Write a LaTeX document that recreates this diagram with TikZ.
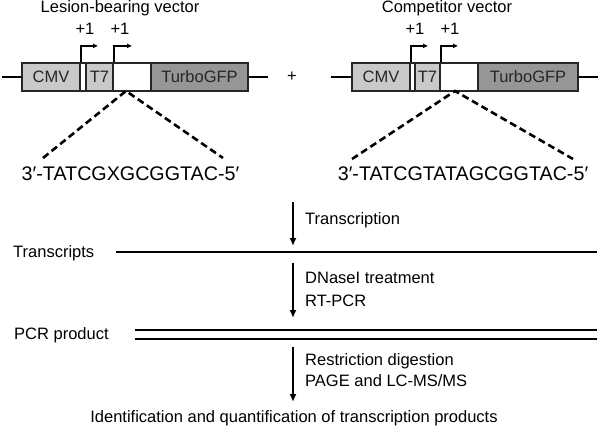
\documentclass[tikz,border=0pt]{standalone}
\usepackage{fontspec}
\setmainfont{Liberation Sans}
\usetikzlibrary{arrows.meta}
\tikzset{
  lbl/.style={font=\fontsize{16.5}{18}\selectfont, inner sep=0pt},
  seq/.style={font=\fontsize{19.7}{21}\selectfont, inner sep=0pt},
  segbox/.style={draw=black!85, line width=2.2pt, minimum height=28pt, inner sep=0pt,
    font=\fontsize{16.5}{18}\selectfont, text height=11.8pt, text depth=0pt, text=black!85},
  lightbox/.style={segbox, fill=black!21},
  darkbox/.style={segbox, fill=black!41},
  whitebox/.style={segbox, fill=white},
  backbone/.style={line width=2.6pt},
  promoter/.style={line width=1.5pt, -{Latex[length=5pt,width=5pt]}},
  stage/.style={line width=2.2pt, -{Latex[length=8pt,width=7pt]}},
  dashline/.style={line width=2.6pt, dash pattern=on 7pt off 4pt},
}
\begin{document}
\begin{tikzpicture}[x=1pt, y=-1pt]
			%%%%% START %%%%%
			\useasboundingbox (0,0) rectangle (600,426);
			
			%%%%% lesion-bearing vector
			\node[lbl, anchor=base] (titleL) at (120,12.5) {Lesion-bearing vector};
			\node[lightbox, minimum width=58pt] (cmvL) at (51,77) {CMV};
			\node[whitebox, minimum width=6pt] (gapL) at (83,77) {};
			\node[lightbox, minimum width=27pt] (t7L) at (99.5,77) {T7};
			\node[whitebox, minimum width=38pt] (insL) at (132,77) {};
			\node[darkbox, minimum width=97pt] (gfpL) at (199.5,77) {TurboGFP};
			\draw[backbone] (cmvL.west) -- ++(-19,0);
			\draw[backbone] (gfpL.east) -- ++(19,0);
			
			\node[lbl, anchor=base] (plusL1) at (85,34) {+1};
			\node[lbl, anchor=base] (plusL2) at (120,34) {+1};
			\draw[promoter] (cmvL.north east) -- ++(0,-16) -- ++(17,0);
			\draw[promoter] (t7L.north east) -- ++(0,-16) -- ++(18,0);
			
			\node[seq, anchor=base] (seqL) at (130.5,180) {3′-TATCGXGCGGTAC-5′};
			\coordinate (apexL) at (126,91);
			\coordinate (endL1) at (43,158);
			\coordinate (endL2) at (223,158);
			\draw[dashline] (endL1) -- (apexL) -- (endL2);
			
			\node[lbl] (plus) at (292,77) {+};
			
			%%%%% competitor vector
			\node[lbl, anchor=base] (titleR) at (447,12.5) {Competitor vector};
			\node[lightbox, minimum width=58pt] (cmvR) at (381,77) {CMV};
			\node[whitebox, minimum width=5pt] (gapR) at (412.5,77) {};
			\node[lightbox, minimum width=25pt] (t7R) at (427.5,77) {T7};
			\node[whitebox, minimum width=38pt] (insR) at (459,77) {};
			\node[darkbox, minimum width=100pt] (gfpR) at (528,77) {TurboGFP};
			\draw[backbone] (cmvR.west) -- ++(-20,0);
			\draw[backbone] (gfpR.east) -- ++(19,0);
			
			\node[lbl, anchor=base] (plusR1) at (415,34) {+1};
			\node[lbl, anchor=base] (plusR2) at (450,34) {+1};
			\draw[promoter] (cmvR.north east) -- ++(0,-16) -- ++(17,0);
			\draw[promoter] (t7R.north east) -- ++(0,-16) -- ++(17,0);
			
			\node[seq, anchor=base] (seqR) at (463,180) {3′-TATCGTATAGCGGTAC-5′};
			\coordinate (apexR) at (455,91);
			\coordinate (endR1) at (352,159);
			\coordinate (endR2) at (573,159);
			\draw[dashline] (endR1) -- (apexR) -- (endR2);
			
			%%%%% workflow
			\coordinate (trsA) at (116,252);
			\coordinate (trsB) at (597,252);
			\coordinate (pcrA) at (135,330);
			\coordinate (pcrB) at (597,330);
			\coordinate (pcrC) at (135,339);
			\coordinate (pcrD) at (597,339);
			\node[lbl, anchor=base west] (trs) at (13,257.5) {Transcripts};
			\node[lbl, anchor=base west] (pcr) at (14,339) {PCR product};
			\draw[backbone] (trsA) -- (trsB);
			\draw[backbone] (pcrA) -- (pcrB);
			\draw[backbone] (pcrC) -- (pcrD);
			
			\coordinate (s1a) at (293,202);
			\coordinate (s1b) at (293,246);
			\coordinate (s2a) at (293,263);
			\coordinate (s2b) at (293,318);
			\coordinate (s3a) at (293,347);
			\coordinate (s3b) at (293,402);
			\draw[stage] (s1a) -- (s1b);
			\draw[stage] (s2a) -- (s2b);
			\draw[stage] (s3a) -- (s3b);
			
			\node[lbl, anchor=base west] (txn) at (305,224) {Transcription};
			\node[lbl, anchor=base west] (dnase) at (305,283) {DNaseI treatment};
			\node[lbl, anchor=base west] (rtpcr) at (305,306) {RT-PCR};
			\node[lbl, anchor=base west] (digest) at (305,365) {Restriction digestion};
			\node[lbl, anchor=base west] (page) at (305,386) {PAGE and LC-MS/MS};
			\node[lbl, anchor=base] (ident) at (294,422.5) {Identification and quantification of transcription products};
			
			%%%%% END %%%%%
\end{tikzpicture}
\end{document}
